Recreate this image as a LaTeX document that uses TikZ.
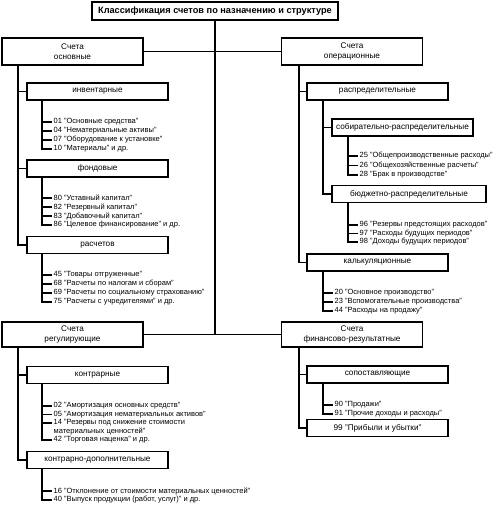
\documentclass[tikz,border=0pt]{standalone}
\usepackage{fontspec}
\setmainfont{Liberation Sans}

\tikzset{
  box/.style={draw, line width=1.6pt, minimum width=141pt, minimum height=17pt, inner sep=1pt,
    align=center, font=\fontsize{8.2}{10.5}\selectfont},
  item/.style={anchor=west, inner sep=1.5pt, font=\fontsize{7.5}{8}\selectfont},
  link/.style={line width=1.6pt},
}

\begin{document}
\begin{tikzpicture}[x=1pt, y=-1pt]
  \useasboundingbox (0,0) rectangle (496,505);

  \node[box, minimum width=246pt, minimum height=18pt, font=\fontsize{9.2}{10}\selectfont\bfseries] (title) at (215,11) {Классификация счетов по назначению и структуре};

  \node[box, minimum height=27pt] (osn) at (72.5,51.5) {Счета\\основные};
  \node[box, minimum height=27pt] (oper) at (352,51.5) {Счета\\операционные};
  \node[box, minimum height=25pt] (reg) at (72.5,334.5) {Счета\\регулирующие};
  \node[box, minimum height=25pt] (fin) at (352,334.5) {Счета\\финансово-результатные};

  \node[box] (inv) at (97.5,91.5) {инвентарные};
  \node[box] (fond) at (97.5,168.5) {фондовые};
  \node[box] (rasch) at (97.5,245) {расчетов};
  \node[box] (kontr) at (97.5,375) {контрарные};
  \node[box] (kdop) at (97.5,460) {контрарно-дополнительные};

  \node[box] (raspr) at (377.5,91.5) {распределительные};
  \node[box] (sobir) at (402.5,127.5) {собирательно-распределительные};
  \node[box, minimum width=154pt] (budzh) at (409,194) {бюджетно-распределительные};
  \node[box] (kalk) at (377.5,262.5) {калькуляционные};
  \node[box] (sopost) at (377.5,374.5) {сопоставляющие};
  \node[box] (prib) at (377.5,428) {99 "Прибыли и убытки"};

  \draw[link] (title.south) -- (title.south |- reg.east);
  \draw[link] (osn.east) -- (oper.west);
  \draw[link] (reg.east) -- (fin.west);

  \draw[link] ([xshift=17pt]osn.south west) |- (inv.west);
  \draw[link] ([xshift=17pt]osn.south west) |- (fond.west);
  \draw[link] ([xshift=17pt]osn.south west) |- (rasch.west);
  \draw[link] ([xshift=18pt]oper.south west) |- (raspr.west);
  \draw[link] ([xshift=18pt]oper.south west) |- (kalk.west);
  \draw[link] ([xshift=17pt]raspr.south west) |- (sobir.west);
  \draw[link] ([xshift=17pt]raspr.south west) |- (budzh.west);
  \draw[link] ([xshift=17pt]reg.south west) |- (kontr.west);
  \draw[link] ([xshift=17pt]reg.south west) |- (kdop.west);
  \draw[link] ([xshift=18pt]fin.south west) |- (sopost.west);
  \draw[link] ([xshift=18pt]fin.south west) |- (prib.west);

  \foreach \t [count=\i] in {01 "Основные средства", 04 "Нематериальные активы",
      07 "Оборудование к установке", 10 "Материалы" и др.} {
    \node[item] (inv-\i) at (52,{113+9*\i}) {\t};
    \draw[link] ([xshift=16pt]inv.south west) |- (inv-\i.west);
  }
  \foreach \t [count=\i] in {80 "Уставный капитал", 82 "Резервный капитал",
      83 "Добавочный капитал", 86 "Целевое финансирование" и др.} {
    \node[item] (fond-\i) at (52,{189+9*\i}) {\t};
    \draw[link] ([xshift=16pt]fond.south west) |- (fond-\i.west);
  }
  \foreach \t [count=\i] in {45 "Товары отгруженные", 68 "Расчеты по налогам и сборам",
      69 "Расчеты по социальному страхованию", 75 "Расчеты с учредителями" и др.} {
    \node[item] (rasch-\i) at (52,{266+9*\i}) {\t};
    \draw[link] ([xshift=16pt]rasch.south west) |- (rasch-\i.west);
  }
  \node[item] (kontr-1) at (52,406) {02 "Амортизация основных средств"};
  \node[item] (kontr-2) at (52,414.5) {05 "Амортизация нематериальных активов"};
  \node[item] (kontr-3) at (52,423) {14 "Резервы под снижение стоимости};
  \node[item] (kontr-3b) at (52,431.5) {материальных ценностей"};
  \node[item] (kontr-4) at (52,440) {42 "Торговая наценка" и др.};
  \foreach \i in {1,2,3,4}
    \draw[link] ([xshift=16pt]kontr.south west) |- (kontr-\i.west);
  \foreach \t [count=\i] in {16 "Отклонение от стоимости материальных ценностей",
      {40 "Выпуск продукции (работ, услуг)" и др.}} {
    \node[item] (kdop-\i) at (52,{482+9*\i}) {\t};
    \draw[link] ([xshift=16pt]kdop.south west) |- (kdop-\i.west);
  }

  \foreach \t [count=\i] in {25 "Общепроизводственные расходы", 26 "Общехозяйственные расчеты",
      28 "Брак в производстве"} {
    \node[item] (sobir-\i) at (358,{146.5+9.5*\i}) {\t};
    \draw[link] ([xshift=17pt]sobir.south west) |- (sobir-\i.west);
  }
  \foreach \t [count=\i] in {96 "Резервы предстоящих расходов", 97 "Расходы будущих периодов",
      98 "Доходы будущих периодов"} {
    \node[item] (budzh-\i) at (358,{216.5+8.5*\i}) {\t};
    \draw[link] ([xshift=17pt]budzh.south west) |- (budzh-\i.west);
  }
  \foreach \t [count=\i] in {20 "Основное производство", 23 "Вспомогательные производства",
      44 "Расходы на продажу"} {
    \node[item] (kalk-\i) at (333,{284+9*\i}) {\t};
    \draw[link] ([xshift=17pt]kalk.south west) |- (kalk-\i.west);
  }
  \foreach \t [count=\i] in {90 "Продажи", 91 "Прочие доходы и расходы"} {
    \node[item] (sopost-\i) at (333,{396+9*\i}) {\t};
    \draw[link] ([xshift=17pt]sopost.south west) |- (sopost-\i.west);
  }
\end{tikzpicture}
\end{document}
